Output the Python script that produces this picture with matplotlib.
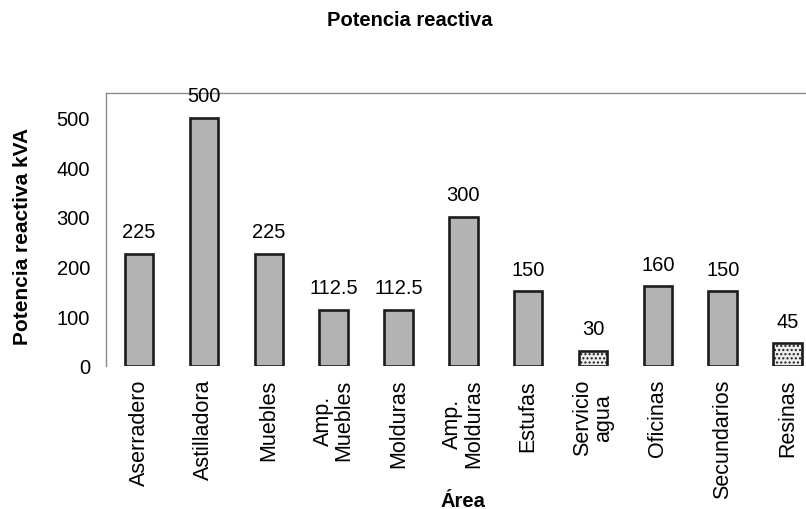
import matplotlib.pyplot as plt

plt.rcParams["font.family"] = ["Liberation Sans", "DejaVu Sans"]
plt.rcParams["hatch.color"] = "#555555"

areas = ["Aserradero", "Astilladora", "Muebles", "Amp.\nMuebles",
         "Molduras", "Amp.\nMolduras", "Estufas", "Servicio\nagua",
         "Oficinas", "Secundarios", "Resinas"]
potencia = [225, 500, 225, 112.5, 112.5, 300, 150, 30, 160, 150, 45]
etiquetas = ["225", "500", "225", "112.5", "112.5", "300", "150",
             "30", "160", "150", "45"]
claras = ["Servicio\nagua", "Resinas"]

fig = plt.figure(figsize=(8.06, 5.10), dpi=100)
# el eje se sale un poco por la derecha de la figura
ax = fig.add_axes([106 / 806, 1 - 366.7 / 510,
                   714 / 806, 272.7 / 510])

x = range(len(areas))
for i, (area, valor) in enumerate(zip(areas, potencia)):
    if area in claras:
        color, trama = "#ededed", "...."
    else:
        color, trama = "#b3b3b3", None
    ax.bar(i, valor, width=0.44, color=color, hatch=trama,
           edgecolor="#1c1c1c", linewidth=1.9)
    ax.annotate(etiquetas[i], (i, valor), xytext=(0, 12),
                textcoords="offset points", ha="center",
                va="baseline", fontsize=14.5)

ax.set_xlim(-0.51, 10.5)
ax.set_ylim(0, 550)
ax.set_yticks([0, 100, 200, 300, 400, 500])
ax.set_xticks(list(x))
ax.set_xticklabels(areas, rotation=90, fontsize=15.5,
                   multialignment="center", linespacing=1.0)
ax.tick_params(axis="y", length=0, pad=11.5, labelsize=14.5)
ax.tick_params(axis="x", length=0, pad=9.5)

for lado in ["bottom", "right"]:
    ax.spines[lado].set_visible(False)
for lado in ["left", "top"]:
    ax.spines[lado].set_color("#8a8a8a")
    ax.spines[lado].set_linewidth(1.0)

ax.set_ylabel("Potencia reactiva kVA", fontsize=15,
              fontweight="bold", va="center")
ax.yaxis.set_label_coords(-0.1176, 0.479)
ax.set_xlabel("Área", fontsize=14.5, fontweight="bold", va="center")
ax.xaxis.set_label_coords(0.5, -0.4925)

fig.text(410 / 806, 1 - 20 / 510, "Potencia reactiva", ha="center",
         va="center", fontsize=14.5, fontweight="bold")

plt.savefig("out.png", dpi=100)
